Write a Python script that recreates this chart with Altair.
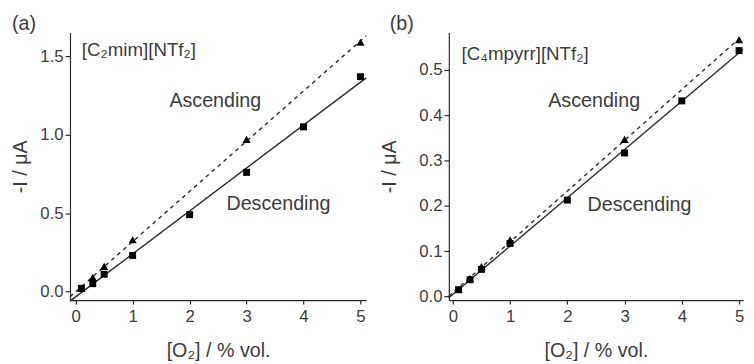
import altair as alt
import pandas as pd

# ---- data ----
asc_x_a = [0.1, 0.3, 0.5, 1, 3, 5]
asc_y_a = [0.02, 0.09, 0.16, 0.33, 0.97, 1.59]
desc_x_a = [0.1, 0.3, 0.5, 1, 2, 3, 4, 5]
desc_y_a = [0.02, 0.05, 0.11, 0.23, 0.49, 0.76, 1.05, 1.37]

asc_x_b = [0.1, 0.3, 0.5, 1, 3, 5]
asc_y_b = [0.016, 0.04, 0.066, 0.125, 0.347, 0.567]
desc_x_b = [0.1, 0.3, 0.5, 1, 2, 3, 4, 5]
desc_y_b = [0.015, 0.037, 0.06, 0.117, 0.213, 0.317, 0.432, 0.543]

x_ticks = [0, 1, 2, 3, 4, 5]
y_ticks_a = [0.0, 0.5, 1.0, 1.5]
y_ticks_b = [0.0, 0.1, 0.2, 0.3, 0.4, 0.5]

ion_a = "[C₂mim][NTf₂]"
ion_b = "[C₄mpyrr][NTf₂]"

FONT = "Liberation Sans"
TXT = "#3c3c3c"
AX = "#2a2a2a"


def panel(asc_x, asc_y, desc_x, desc_y, xdom, ydom, yticks, w, h,
          letter, letter_dx, ion, ion_pos, asc_pos, desc_pos, extent):
    asc = pd.DataFrame({"x": asc_x, "y": asc_y})
    desc = pd.DataFrame({"x": desc_x, "y": desc_y})
    xs = alt.Scale(domain=xdom, nice=False, zero=False)
    ys = alt.Scale(domain=ydom, nice=False, zero=False)
    xax = alt.Axis(values=x_ticks, format="d", title="[O₂] / % vol.",
                   grid=False, tickSize=4, labelPadding=5, titlePadding=16)
    yax = alt.Axis(values=yticks, format=".1f", title="-I / μA", grid=False,
                   tickSize=5, labelPadding=2, titlePadding=4,
                   minExtent=extent, maxExtent=extent)
    X = alt.X("x:Q", scale=xs, axis=xax)
    Y = alt.Y("y:Q", scale=ys, axis=yax)

    fit_a = alt.Chart(asc).transform_regression(
        "x", "y", method="linear", extent=xdom
    ).mark_line(color=AX, strokeWidth=1.4, strokeDash=[4, 4]).encode(x=X, y=Y)
    fit_d = alt.Chart(desc).transform_regression(
        "x", "y", method="linear", extent=xdom
    ).mark_line(color=AX, strokeWidth=1.4).encode(x=X, y=Y)
    pts_a = alt.Chart(asc).mark_point(shape="triangle-up", filled=True,
                                      color="black", size=70, opacity=1).encode(x=X, y=Y)
    pts_d = alt.Chart(desc).mark_point(shape="square", filled=True,
                                       color="black", size=50, opacity=1).encode(x=X, y=Y)

    def label(text, pos, size):
        return alt.Chart(pd.DataFrame({"t": [text]})).mark_text(
            align="left", baseline="middle", font=FONT, fontSize=size, color=TXT
        ).encode(x=alt.value(pos[0]), y=alt.value(pos[1]), text="t:N")

    return alt.layer(
        fit_a, fit_d, pts_a, pts_d,
        label(ion, ion_pos, 19),
        label("Ascending", asc_pos, 20),
        label("Descending", desc_pos, 20),
    ).properties(
        width=w, height=h,
        title=alt.TitleParams(letter, anchor="start", frame="group", dx=letter_dx,
                              dy=3, fontSize=20, fontWeight="normal", font=FONT,
                              color=TXT, offset=2),
    )


a = panel(asc_x_a, asc_y_a, desc_x_a, desc_y_a, [-0.1, 5.1], [-0.055, 1.652],
          y_ticks_a, 301, 272, "(a)", -59, ion_a, (12, 18), (101, 70), (159, 174), 36)
b = panel(asc_x_b, asc_y_b, desc_x_b, desc_y_b, [-0.07, 5.07], [-0.008, 0.583],
          y_ticks_b, 299, 272, "(b)", -60, ion_b, (13, 22), (101, 70), (141, 175), 46)

chart = alt.hconcat(a, b, spacing=11).properties(
    padding={"left": 3, "top": 2, "right": 0, "bottom": 0}
).configure_view(stroke=None).configure_axis(
    domainColor=AX, tickColor=AX, domainWidth=1.2, tickWidth=1.2,
    labelFont=FONT, titleFont=FONT, labelFontSize=17, titleFontSize=20,
    labelColor=TXT, titleColor=TXT, titleFontWeight="normal",
)

chart.save("out.html", embed_options={"renderer": "svg", "actions": False})
